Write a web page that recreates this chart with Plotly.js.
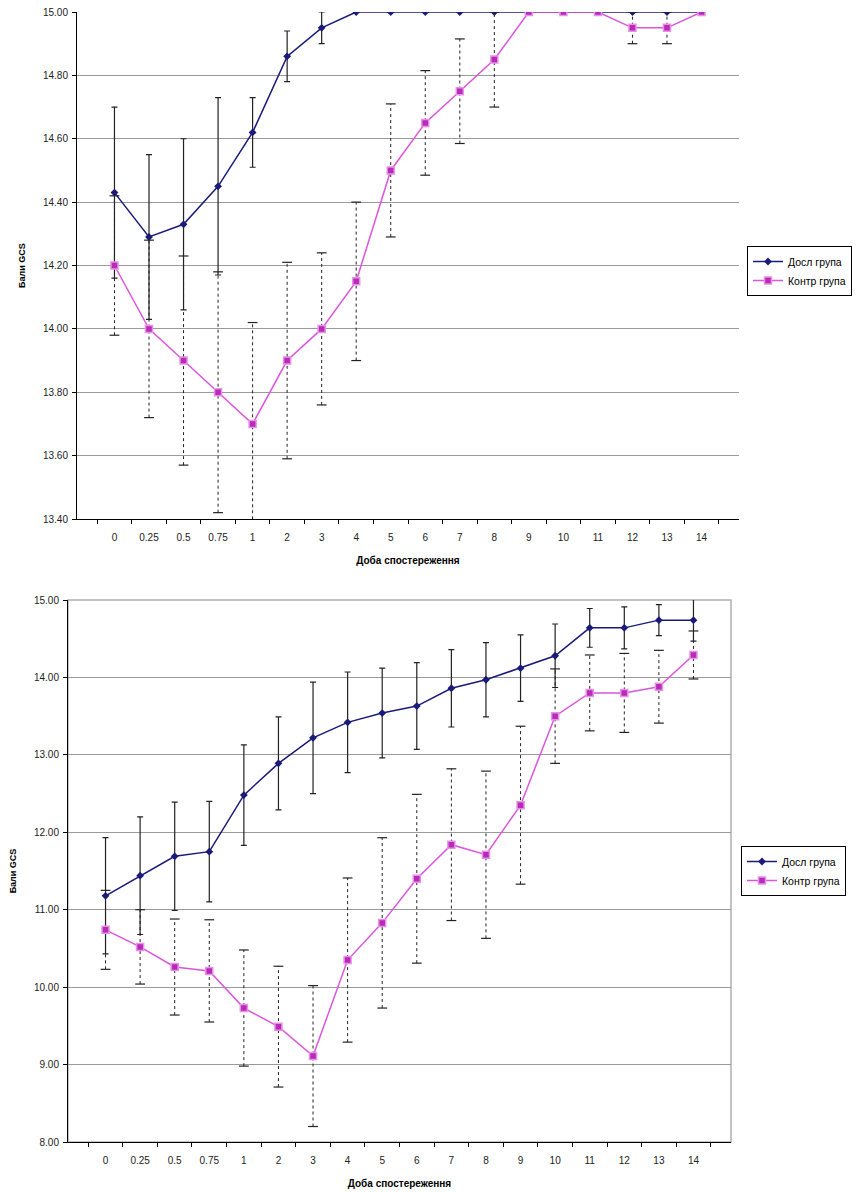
<!DOCTYPE html>
<html>
<head>
<meta charset="utf-8">
<script src="https://cdn.plot.ly/plotly-3.0.1.min.js"></script>
<style>html,body{margin:0;padding:0;background:#fff;}#chart{width:859px;height:1192px;}</style>
</head>
<body>
<div id="chart"></div>
<script>
// ---- Data ----
const categories = ['0','0.25','0.5','0.75','1','2','3','4','5','6','7','8','9','10','11','12','13','14'];
const seriesNames = ['Досл група', 'Контр група'];
const xTitle = 'Доба спостереження';
const yTitle = 'Бали GCS';

// Chart 1 (top)
const dosl1    = [14.43,14.29,14.33,14.45,14.62,14.86,14.95,15,15,15,15,15,15,15,15,15,15,15];
const dosl1Err = [0.27,0.26,0.27,0.28,0.11,0.08,0.05,0,0,0,0,0,0,0,0,0,0,0];
const kontr1    = [14.20,14.00,13.90,13.80,13.70,13.90,14.00,14.15,14.50,14.65,14.75,14.85,15,15,15,14.95,14.95,15];
const kontr1Err = [0.22,0.28,0.33,0.38,0.32,0.31,0.24,0.25,0.21,0.165,0.165,0.15,0,0,0,0.05,0.05,0];

// Chart 2 (bottom)
const dosl2    = [11.18,11.44,11.69,11.75,12.48,12.89,13.22,13.42,13.54,13.63,13.86,13.97,14.12,14.28,14.64,14.64,14.74,14.74];
const dosl2Err = [0.75,0.76,0.70,0.65,0.65,0.60,0.72,0.65,0.58,0.56,0.50,0.48,0.43,0.41,0.25,0.27,0.20,0.27];
const kontr2    = [10.74,10.52,10.26,10.21,9.73,9.49,9.11,10.35,10.83,11.40,11.84,11.71,12.35,13.50,13.80,13.80,13.88,14.29];
const kontr2Err = [0.51,0.48,0.62,0.66,0.75,0.78,0.91,1.06,1.10,1.09,0.98,1.08,1.02,0.61,0.49,0.51,0.47,0.31];

// ---- Styles ----
const navy = '#1a1a7a';
const pinkLine = '#dd55dd';
const pinkMarker = '#b82ab8';
const errColor = '#222222';
const FONT = 'Liberation Sans, Arial, sans-serif';

function dashedErr(vals, errs, xa, ya) {
  const x = [], y = [];
  vals.forEach((v, i) => {
    if (errs[i] > 0) { x.push(categories[i], categories[i], null); y.push(v - errs[i], v + errs[i], null); }
  });
  return {x, y, xaxis: xa, yaxis: ya, mode: 'lines', type: 'scatter', hoverinfo: 'skip',
          line: {color: errColor, width: 1, dash: '3px,3px'}, showlegend: false};
}
function caps(vals, errs, xa, ya) {
  const x = [], y = [];
  vals.forEach((v, i) => {
    if (errs[i] > 0) { x.push(categories[i], categories[i]); y.push(v - errs[i], v + errs[i]); }
  });
  return {x, y, xaxis: xa, yaxis: ya, mode: 'markers', type: 'scatter', hoverinfo: 'skip',
          marker: {symbol: 'line-ew', size: 7, line: {color: errColor, width: 1.2}}, showlegend: false};
}
function dosl(vals, errs, xa, ya, leg) {
  return {x: categories, y: vals, xaxis: xa, yaxis: ya, name: seriesNames[0], type: 'scatter', mode: 'lines+markers',
          legend: leg,
          line: {color: navy, width: 1.5},
          marker: {symbol: 'diamond', size: 6, color: navy},
          error_y: {type: 'data', array: errs.map(e => e > 0 ? e : null), visible: true, color: errColor, thickness: 1.2, width: 3}};
}
function kontr(vals, xa, ya, leg) {
  return {x: categories, y: vals, xaxis: xa, yaxis: ya, name: seriesNames[1], type: 'scatter', mode: 'lines+markers',
          legend: leg,
          line: {color: pinkLine, width: 1.5},
          marker: {symbol: 'square', size: 7, color: pinkMarker, line: {color: '#e890e8', width: 1.5}}};
}

const data = [
  dosl(dosl1, dosl1Err, 'x', 'y', 'legend'),
  dashedErr(kontr1, kontr1Err, 'x', 'y'),
  caps(kontr1, kontr1Err, 'x', 'y'),
  kontr(kontr1, 'x', 'y', 'legend'),
  dosl(dosl2, dosl2Err, 'x2', 'y2', 'legend2'),
  dashedErr(kontr2, kontr2Err, 'x2', 'y2'),
  caps(kontr2, kontr2Err, 'x2', 'y2'),
  kontr(kontr2, 'x2', 'y2', 'legend2')
];

const W = 859, H = 1192;
function xax(l, r, anchor) {
  return {type: 'category', domain: [l / W, r / W], anchor: anchor, showline: true, linecolor: '#000', linewidth: 1,
          ticks: 'outside', tickson: 'boundaries', ticklen: 4, tickcolor: '#000', showgrid: false, zeroline: false,
          ticklabelstandoff: 9,
          tickfont: {family: FONT, size: 10, color: '#222'}, fixedrange: true,
          title: {text: '<b>' + xTitle + '</b>', font: {family: FONT, size: 10, color: '#000'}, standoff: 14}};
}
function yax(top, bottom, anchor, range, dtick) {
  return {domain: [(H - bottom) / H, (H - top) / H], anchor: anchor, range: range, dtick: dtick, tickformat: '.2f',
          showline: true, linecolor: '#000', linewidth: 1, ticks: 'outside', ticklen: 4, tickcolor: '#000',
          ticklabelstandoff: 2,
          showgrid: true, gridcolor: '#9a9a9a', gridwidth: 1, zeroline: false,
          tickfont: {family: FONT, size: 10, color: '#222'}, fixedrange: true,
          title: {text: '<b>' + yTitle + '</b>', font: {family: FONT, size: 9, color: '#000'}, standoff: 15}};
}

const legendBase = {bgcolor: '#fff', bordercolor: '#000', borderwidth: 1, font: {family: FONT, size: 10.5, color: '#000'},
                    xanchor: 'left', yanchor: 'top', itemwidth: 30, tracegroupgap: 0};

const layout = {
  width: W, height: H, margin: {l: 0, r: 0, t: 0, b: 0}, paper_bgcolor: '#fff', plot_bgcolor: '#fff',
  showlegend: true,
  xaxis: xax(77, 739, 'y'),
  yaxis: yax(12, 519, 'x', [13.4, 15.0], 0.2),
  xaxis2: xax(68, 731, 'y2'),
  yaxis2: yax(600, 1142, 'x2', [8, 15], 1),
  legend: Object.assign({}, legendBase, {x: 747 / W, y: 1 - 246 / H}),
  legend2: Object.assign({}, legendBase, {x: 741 / W, y: 1 - 846 / H}),
  shapes: [
    {type: 'rect', xref: 'x2 domain', yref: 'y2 domain', x0: 0, x1: 1, y0: 0, y1: 1, layer: 'below',
     line: {color: '#b0b0b0', width: 1.5}}
  ]
};

Plotly.newPlot('chart', data, layout, {displayModeBar: false, staticPlot: true});
</script>
</body>
</html>
